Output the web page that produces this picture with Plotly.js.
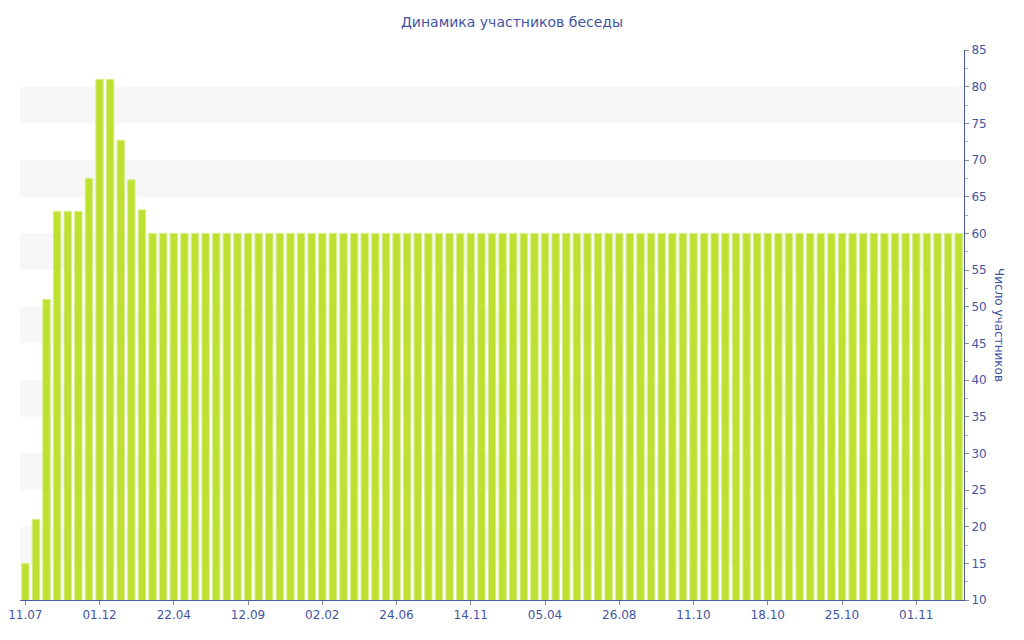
<!DOCTYPE html>
<html>
<head>
<meta charset="utf-8">
<script src="https://cdn.plot.ly/plotly-3.0.1.min.js"></script>
<style>html,body{margin:0;padding:0;background:#fff;}#chart{width:1024px;height:640px;}</style>
</head>
<body>
<div id="chart"></div>
<script>
const tickLabels = ["11.07","01.12","22.04","12.09","02.02","24.06","14.11","05.04","26.08","11.10","18.10","25.10","01.11"];
const tickIndex = [0,7,14,21,28,35,42,49,56,63,70,77,84];
const members = [
  15,21,51,63,63,63,67.5,81,81,72.7,67.3,63.2,
  60,60,60,60,60,60,60,60,60,60,
  60,60,60,60,60,60,60,60,60,60,
  60,60,60,60,60,60,60,60,60,60,
  60,60,60,60,60,60,60,60,60,60,
  60,60,60,60,60,60,60,60,60,60,
  60,60,60,60,60,60,60,60,60,60,
  60,60,60,60,60,60,60,60,60,60,
  60,60,60,60,60,60,60
];
const positions = members.map((v,i)=>i);

const textColor = '#3f55a2';
const bands = [];
for (let y = 15; y < 85; y += 10) {
  bands.push({type:'rect', xref:'paper', yref:'y', x0:0, x1:1, y0:y, y1:y+5,
    fillcolor:'#f7f7f7', line:{width:0}, layer:'below'});
}

const trace = {
  type:'bar', x:positions, y:members,
  marker:{color:'#bde031', line:{color:'#d9ef8e', width:1}},
  hoverinfo:'y'
};

const layout = {
  width:1024, height:640,
  margin:{l:20, r:60, t:50, b:40},
  paper_bgcolor:'#fff', plot_bgcolor:'#fff',
  font:{family:'DejaVu Sans, Verdana, sans-serif', size:12, color:textColor},
  title:{text:'Динамика участников беседы', x:0.5, xanchor:'center', y:0.965, yanchor:'middle',
    font:{size:14, color:textColor}},
  bargap:0.3,
  showlegend:false,
  xaxis:{range:[-0.5, members.length-0.5], tickvals:tickIndex, ticktext:tickLabels,
    showgrid:false, zeroline:false, showline:true, linecolor:'#4a5ba0', linewidth:1,
    ticks:'outside', ticklen:4, tickcolor:'#888', tickfont:{size:12, color:textColor}},
  yaxis:{side:'right', range:[10,85], dtick:5, tick0:10, showgrid:false, zeroline:false,
    showline:true, linecolor:'#4a5ba0', linewidth:1, ticks:'outside', ticklen:4, tickcolor:'#888',
    minor:{dtick:2.5, ticks:'outside', ticklen:3, tickcolor:'#aaa', showgrid:false},
    tickfont:{size:12, color:textColor}},
  shapes:bands,
  annotations:[{text:'Число участников', xref:'paper', yref:'paper', x:1.037, y:0.5,
    xanchor:'center', yanchor:'middle', textangle:90, showarrow:false,
    font:{size:12, color:textColor}}]
};

Plotly.newPlot('chart', [trace], layout, {displayModeBar:false, staticPlot:true});
</script>
</body>
</html>
